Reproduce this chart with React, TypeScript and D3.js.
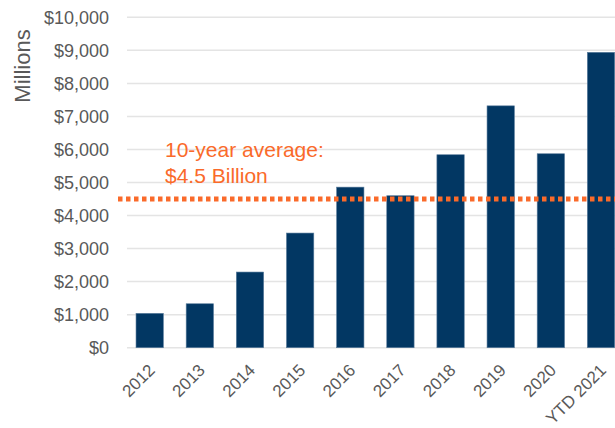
import React from "react";
import * as d3 from "d3";

const categories = ["2012", "2013", "2014", "2015", "2016", "2017", "2018", "2019", "2020", "YTD 2021"];
const values = [1040, 1330, 2290, 3470, 4860, 4600, 5840, 7320, 5870, 8940];
const yTicks = [0, 1000, 2000, 3000, 4000, 5000, 6000, 7000, 8000, 9000, 10000];
const averageValue = 4500;
const averageLabel = ["10-year average:", "$4.5 Billion"];
const yAxisTitle = "Millions";

const W = 615;
const H = 428;
const FONT = "'Liberation Sans', Arial, sans-serif";
const NAVY = "#023763";
const ORANGE = "#FA6A2A";
const GREY = "#595959";

export default function App() {
  const x = d3
    .scaleBand<string>()
    .domain(categories)
    .range([127, 623.7])
    .paddingInner(0.455)
    .paddingOuter(0.18);
  const y = d3.scaleLinear().domain([0, 10000]).range([347.7, 17.3]);
  const fmt = (v: number) => "$" + d3.format(",")(v);

  return (
    <svg
      width={W}
      height={H}
      style={{ position: "absolute", left: 0, top: 0, background: "#fff" }}
      fontFamily={FONT}
    >
      {yTicks.map((t) => (
        <g key={t}>
          <line x1={127} x2={W} y1={y(t)} y2={y(t)} stroke="#e4e4e4" strokeWidth={1.5} />
          <text x={109} y={y(t)} dy="0.35em" textAnchor="end" fontSize={18} fill={GREY}>
            {fmt(t)}
          </text>
        </g>
      ))}
      <text
        transform={`translate(30,66) rotate(-90)`}
        textAnchor="middle"
        fontSize={22}
        fill={GREY}
      >
        {yAxisTitle}
      </text>
      {categories.map((c, i) => (
        <rect
          key={c}
          x={x(c)}
          y={y(values[i])}
          width={x.bandwidth()}
          height={y(0) - y(values[i])}
          fill={NAVY}
          stroke="#5a7c9c"
          strokeWidth={0.6}
        />
      ))}
      {categories.map((c) => {
        const cx = (x(c) as number) + x.bandwidth() / 2 + 2;
        return (
          <text
            key={c}
            transform={`translate(${cx},367) rotate(-45)`}
            textAnchor="end"
            dy="0.35em"
            fontSize={17}
            fill={GREY}
          >
            {c}
          </text>
        );
      })}
      <line
        x1={118}
        x2={W}
        y1={y(averageValue)}
        y2={y(averageValue)}
        stroke={ORANGE}
        strokeWidth={5}
        strokeDasharray="4.5,3.5"
      />
      {averageLabel.map((l, i) => (
        <text key={i} x={165} y={157 + i * 26} fontSize={21} fill={ORANGE}>
          {l}
        </text>
      ))}
    </svg>
  );
}
